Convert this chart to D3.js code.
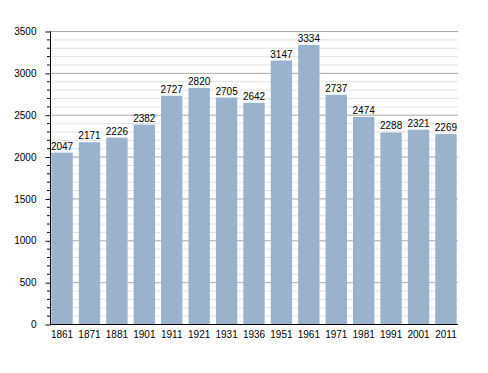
<!DOCTYPE html>
<html>
<head>
<meta charset="utf-8">
<script src="https://cdn.jsdelivr.net/npm/d3@7"></script>
<style>
  body { margin: 0; background: #fff; }
  text { font-family: "Liberation Sans", Arial, sans-serif; font-size: 10px; fill: #000; }
</style>
</head>
<body>
<div class="canvas"></div>
<script>
// chart data
const years = ["1861", "1871", "1881", "1901", "1911", "1921", "1931", "1936", "1951", "1961", "1971", "1981", "1991", "2001", "2011"];
const population = [2047, 2171, 2226, 2382, 2727, 2820, 2705, 2642, 3147, 3334, 2737, 2474, 2288, 2321, 2269];
const yTicks = [0, 500, 1000, 1500, 2000, 2500, 3000, 3500];

// margins and dimensions
const w = 488;
const h = 373;
const margin = { top: 31, right: 30, bottom: 49, left: 50 };
const graphWidth = w - margin.left - margin.right;
const graphHeight = h - margin.top - margin.bottom;
const font = "Liberation Sans, Arial, sans-serif";

const svg = d3.select(".canvas").append("svg").attr("width", w).attr("height", h);

const graph = svg.append("g")
  .attr("transform", `translate(${margin.left}, ${margin.top})`);

const xScale = d3.scaleBand()
  .domain(years)
  .range([0, graphWidth])
  .paddingInner(0.22)
  .paddingOuter(0.05);

const yScale = d3.scaleLinear()
  .domain([0, 3500])
  .range([graphHeight, 0]);

// minor gridlines every 100
const minor = d3.range(0, 3501, 100).filter(v => v % 500 !== 0);
graph.selectAll(".minor")
  .data(minor)
  .enter().append("line")
  .attr("x1", 0).attr("x2", graphWidth)
  .attr("y1", d => yScale(d) + 0.5).attr("y2", d => yScale(d) + 0.5)
  .attr("stroke", "#e2e2e2");

// major gridlines
graph.selectAll(".major")
  .data(yTicks.slice(1))
  .enter().append("line")
  .attr("x1", 0).attr("x2", graphWidth)
  .attr("y1", d => yScale(d) + 0.5).attr("y2", d => yScale(d) + 0.5)
  .attr("stroke", "#a9a9a9");

// bars
graph.selectAll("rect")
  .data(population)
  .enter().append("rect")
  .attr("x", (d, i) => xScale(years[i]))
  .attr("y", d => yScale(d))
  .attr("width", xScale.bandwidth())
  .attr("height", d => graphHeight - yScale(d))
  .attr("fill", "#9ab2cc");

// value labels
graph.selectAll(".val")
  .data(population)
  .enter().append("text")
  .attr("x", (d, i) => xScale(years[i]) + xScale.bandwidth() / 2)
  .attr("y", d => yScale(d) - 3)
  .attr("text-anchor", "middle")
  .text(d => d);

// y axis: minor ticks
graph.selectAll(".mtick")
  .data(minor)
  .enter().append("line")
  .attr("x1", -3).attr("x2", 0)
  .attr("y1", d => yScale(d) + 0.5).attr("y2", d => yScale(d) + 0.5)
  .attr("stroke", "#000");

const yAxis = d3.axisLeft(yScale).tickValues(yTicks).tickFormat(d3.format("d")).tickSize(5).tickPadding(9);
const yG = graph.append("g").attr("transform", "translate(0.5,0.5)").call(yAxis);
yG.select(".domain").attr("d", `M0,0V${graphHeight}`).attr("stroke", "#000");
yG.selectAll("text").style("font-size", "10px").style("font-family", font);

const xAxis = d3.axisBottom(xScale).tickSize(0).tickPadding(6);
const xG = graph.append("g").attr("transform", `translate(0,${graphHeight + 0.5})`).call(xAxis);
xG.select(".domain").attr("d", `M0,0H${graphWidth}`).attr("stroke", "#000");
xG.selectAll("text").style("font-size", "10px").style("font-family", font);
</script>
</body>
</html>
